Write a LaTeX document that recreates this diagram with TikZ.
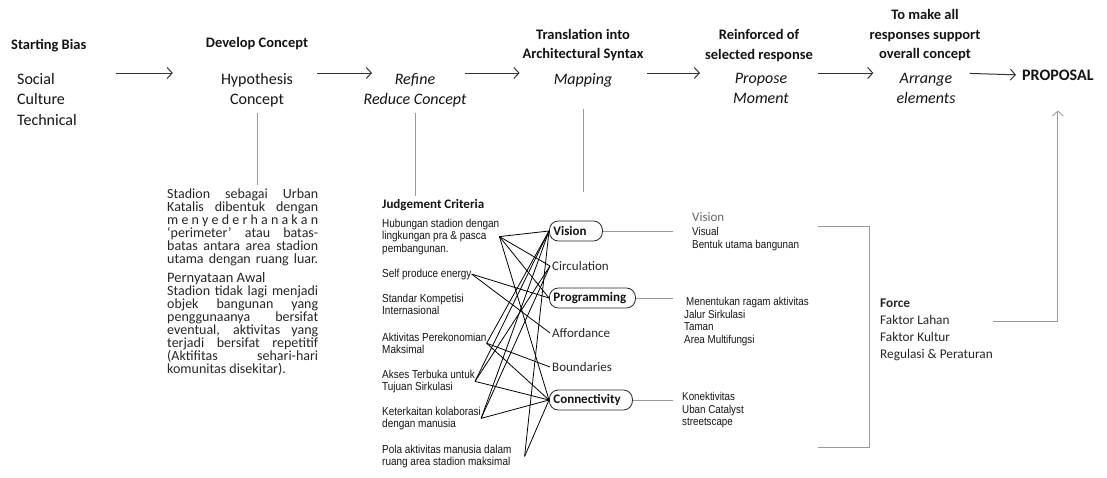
\documentclass[tikz,border=0pt]{standalone}
\usepackage{fontspec}
\setmainfont{Carlito}
\newfontfamily\arialfont[FakeStretch=0.86]{Liberation Sans}
\usepackage{tikz}
\usetikzlibrary{arrows.meta,positioning}

\begin{document}
\begin{tikzpicture}[x=1pt, y=-1pt,
  every node/.style={inner sep=0pt, text=black!92},
  head/.style={align=center, font=\fontsize{14.5}{19.5}\selectfont\bfseries},
  stage/.style={align=center, anchor=north, font=\fontsize{16}{20.5}\selectfont},
  stageit/.style={stage, font=\fontsize{16}{20.5}\selectfont\itshape},
  note/.style={align=left, anchor=north west, text=black!85, font=\fontsize{14}{13}\selectfont},
  crit/.style={align=left, anchor=north west, font=\arialfont\fontsize{11.6}{12.5}\selectfont},
  aspect/.style={anchor=west, inner xsep=2pt, text=black!85, font=\fontsize{13}{15}\selectfont},
  pill/.style={anchor=west, draw=black!85, thick, rounded corners=9pt, inner xsep=4pt,
    minimum height=20pt, align=left, font=\fontsize{13}{15}\selectfont\bfseries},
  small/.style={align=left, anchor=north west, font=\arialfont\fontsize{11.4}{12.5}\selectfont},
  flow/.style={-{Straight Barb[length=5pt,width=11pt]}, line width=1pt, black!80},
  link/.style={line width=0.8pt, black},
  gline/.style={line width=0.8pt, black!40}]

\useasboundingbox (0,0) rectangle (1107,477);

% Position the headings of each stage
\node[head, anchor=west] (startingBias) at (11,46) {Starting Bias};
\node[head] (developConcept) at (257,44) {Develop Concept};
\node[head] (translation) at (583,45) {Translation into\\Architectural Syntax};
\node[head] (reinforced) at (759,45.5) {Reinforced of\\selected response};
\node[head] (toMakeAll) at (925,35.5) {To make all\\responses support\\overall concept};

% The stages themselves
\node[stage, anchor=north west, align=left] (social) at (17,73) {Social\\Culture\\Technical};
\node[stage] (hypothesis) at (257,73) {Hypothesis\\Concept};
\node[stageit] (refine) at (415,73) {Refine\\Reduce Concept};
\node[stageit] (mapping) at (583,73) {Mapping};
\node[stageit] (propose) at (761,73) {Propose\\Moment};
\node[stageit] (arrange) at (926,73) {Arrange\\elements};
\node[head, anchor=west, font=\fontsize{16}{19}\selectfont\bfseries] (proposal) at (1022,75) {PROPOSAL};

% Draw the arrows between the stages
\draw[flow, shorten <=39pt, shorten >=48pt] (social.north east) -- (hypothesis.north west);
\draw[flow, shorten <=24pt, shorten >=43pt] (hypothesis.north east) -- (refine.north);
\draw[flow, shorten <=50pt, shorten >=34pt] (refine.north) -- (mapping.north west);
\draw[flow, shorten <=35pt, shorten >=33pt] (mapping.north east) -- (propose.north west);
\draw[flow, shorten <=29pt, shorten >=23pt] (propose.north east) -- (arrange.north west);
\draw[flow, shorten <=14pt, shorten >=6pt] (arrange.north east) -- (proposal.west);

% Concept notes
\node[note] (stadionText) at (167,189) {%
  \makebox[151pt][s]{Stadion sebagai Urban}\\
  \makebox[151pt][s]{Katalis dibentuk dengan}\\
  \makebox[151pt][s]{m e n y e d e r h a n a k a n}\\
  \makebox[151pt][s]{`perimeter' atau batas-}\\
  \makebox[151pt][s]{batas antara area stadion}\\
  \makebox[151pt][s]{utama dengan ruang luar.}};
\node[note] (pernyataan) at (167,272) {%
  {\fontsize{14.5}{13}\selectfont Pernyataan Awal}\\
  \makebox[151pt][s]{Stadion tidak lagi menjadi}\\
  \makebox[151pt][s]{objek bangunan yang}\\
  \makebox[151pt][s]{penggunaanya bersifat}\\
  \makebox[151pt][s]{eventual, aktivitas yang}\\
  \makebox[151pt][s]{terjadi bersifat repetitif}\\
  \makebox[151pt][s]{(Aktifitas sehari-hari}\\
  komunitas disekitar).};

% Judgement criteria
\node[anchor=north west, font=\fontsize{13}{13}\selectfont\bfseries] (judgement) at (382,199.5) {Judgement Criteria};
\node[crit] (hubungan) at (382,218.5) {Hubungan stadion dengan\\lingkungan pra \& pasca\\pembangunan.};
\node[crit] (selfProduce) at (382,268.5) {Self produce energy};
\node[crit] (standar) at (382,293.5) {Standar Kompetisi\\Internasional};
\node[crit] (aktivitas) at (382,332.5) {Aktivitas Perekonomian\\Maksimal};
\node[crit] (akses) at (382,369.5) {Akses Terbuka untuk\\Tujuan Sirkulasi};
\node[crit] (keterkaitan) at (382,406.5) {Keterkaitan kolaborasi\\dengan manusia};
\node[crit] (pola) at (382,444.5) {Pola aktivitas manusia dalam\\ruang area stadion maksimal};

% Mapping aspects
\node[pill, text width=45pt] (vision) at (549,231) {Vision};
\node[aspect] (circulation) at (550,266) {Circulation};
\node[pill, text width=78pt] (programming) at (549,298) {Programming};
\node[aspect] (affordance) at (550,333) {Affordance};
\node[aspect] (boundaries) at (550,367) {Boundaries};
\node[pill, text width=75pt] (connectivity) at (549,400) {Connectivity};

% Draw the criteria links
\draw[link] (hubungan.east) -- (vision.west);
\draw[link] (hubungan.east) -- (circulation.west);
\draw[link] (hubungan.east) -- (programming.west);
\draw[link] (hubungan.east) -- (connectivity.west);
\draw[link] (selfProduce.east) -- (programming.west);
\draw[link] (selfProduce.east) -- (affordance.west);
\draw[link] (aktivitas.east) -- (vision.west);
\draw[link] (aktivitas.east) -- (boundaries.west);
\draw[link] (aktivitas.east) -- (connectivity.west);
\draw[link] (akses.east) -- (vision.west);
\draw[link] (akses.east) -- (circulation.west);
\draw[link] (akses.east) -- (connectivity.west);
\draw[link] (keterkaitan.east) -- (vision.west);
\draw[link] (keterkaitan.east) -- (circulation.west);
\draw[link] (keterkaitan.east) -- (connectivity.west);
\draw[link] ([xshift=13pt]pola.east) -- (vision.west);
\draw[link] ([xshift=13pt]pola.east) -- (connectivity.west);

% Responses
\node[anchor=north west, text=black!60, font=\fontsize{13}{13}\selectfont] (visionTitle) at (692,212.5) {Vision};
\node[small] (visionNote) at (692,227.5) {Visual\\Bentuk utama bangunan};
\node[small] (programmingNote) at (684,297.5) {\hspace*{2pt}Menentukan ragam aktivitas\\Jalur Sirkulasi\\Taman\\Area Multifungsi};
\node[small] (connectivityNote) at (682,392.5) {Konektivitas\\Uban Catalyst\\streetscape};

\draw[gline, shorten >=19pt] (vision.east) -- (vision.east -| visionNote.west);
\draw[gline, shorten >=11pt] (programming.east) -- (programming.east -| programmingNote.west);
\draw[gline, shorten >=9pt] (connectivity.east) -- (connectivity.east -| connectivityNote.west);

% Force
\node[note, text=black!85, font=\fontsize{13.3}{17}\selectfont] (forceText) at (880,299) {\textbf{Force}\\Faktor Lahan\\Faktor Kultur\\Regulasi \& Peraturan};
\draw[gline] (818,226) -- (869,226) -- (869,447) -- (818,447);
\draw[gline, -{Straight Barb[length=5pt,width=11pt]}, shorten >=30pt] ([yshift=8.5pt]forceText.east) -| (proposal.south);

% Gray drop lines
\draw[gline, shorten <=5pt, shorten >=4pt] (hypothesis.south) -- (hypothesis.south |- stadionText.north);
\draw[gline, shorten <=5pt, shorten >=4pt] (refine.south) -- (refine.south |- judgement.north);
\draw[gline, shorten <=22pt, shorten >=8pt] (mapping.south) -- (mapping.south |- judgement.north);

\end{tikzpicture}
\end{document}
